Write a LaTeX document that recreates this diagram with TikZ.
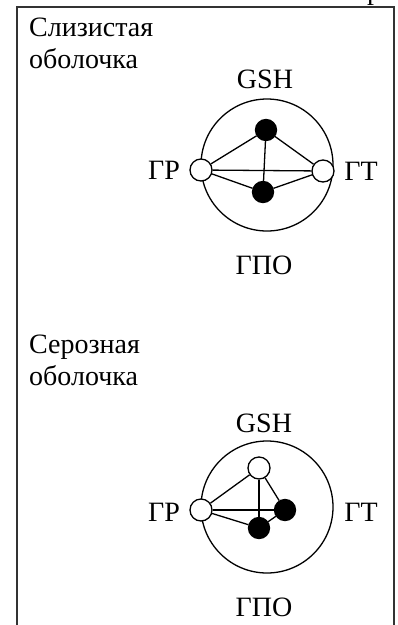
\documentclass[tikz,border=0pt]{standalone}
\usepackage{fontspec}
\setmainfont{Liberation Serif}
\begin{document}
\begin{tikzpicture}[x=1pt,y=-1pt,
  txt/.style={font=\fontsize{28}{32}\selectfont, inner sep=0pt},
  ring/.style={circle, draw, line width=1.3pt, minimum size=132pt, inner sep=0pt},
  opendot/.style={circle, draw, fill=white, line width=1.3pt, minimum size=22pt, inner sep=0pt},
  filldot/.style={circle, draw, fill=black, line width=1.3pt, minimum size=21pt, inner sep=0pt},
  edge/.style={line width=1.3pt},
  frame/.style={line width=1.4pt, draw=black!80}]
\useasboundingbox (0,0) rectangle (397,625);
\clip (0,0) rectangle (397,625);
% frame
\coordinate (fbl) at (17,625);
\coordinate (ftl) at (17,7);
\coordinate (ftr) at (394,7);
\coordinate (fbr) at (394,625);
\draw[frame] (fbl) -- (ftl) -- (ftr) -- (fbr);
\node[txt, anchor=base west] (cut) at (367,-0.5) {р};
% ---- first diagram
\node[txt, anchor=north west, align=left] (lab1) at (29,18) {Слизистая\\оболочка};
\node[ring] (c1) at (267,165) {};
\node[txt] (gsh1) at (265,79) {GSH};
\node[txt] (gpo1) at (264,265) {ГПО};
\node[txt] (gr1) at (164,170) {ГР};
\node[txt] (gt1) at (361,171) {ГТ};
\node[opendot] (a1) at (201,170) {};
\node[opendot] (b1) at (323,171) {};
\node[filldot] (t1) at (266,130) {};
\node[filldot] (d1) at (263,192) {};
\draw[edge] (a1) -- (t1);
\draw[edge] (a1) -- (d1);
\draw[edge] (a1) -- (b1);
\draw[edge] (t1) -- (b1);
\draw[edge] (d1) -- (b1);
\draw[edge] (t1) -- (d1);
% ---- second diagram
\node[txt, anchor=north west, align=left] (lab2) at (29,335) {Серозная\\оболочка};
\node[ring] (c2) at (267,507) {};
\node[txt] (gsh2) at (264,423) {GSH};
\node[txt] (gpo2) at (264,607) {ГПО};
\node[txt] (gr2) at (164,512) {ГР};
\node[txt] (gt2) at (361,512) {ГТ};
\node[opendot] (a2) at (201,510) {};
\node[opendot] (o2) at (259,468) {};
\node[filldot] (r2) at (285,510) {};
\node[filldot] (d2) at (259,528) {};
\draw[edge] (a2) -- (o2);
\draw[edge] (a2) -- (r2);
\draw[edge] (a2) -- (d2);
\draw[edge] (o2) -- (d2);
\draw[edge] (o2) -- (r2);
\draw[edge] (r2) -- (d2);
\end{tikzpicture}
\end{document}
